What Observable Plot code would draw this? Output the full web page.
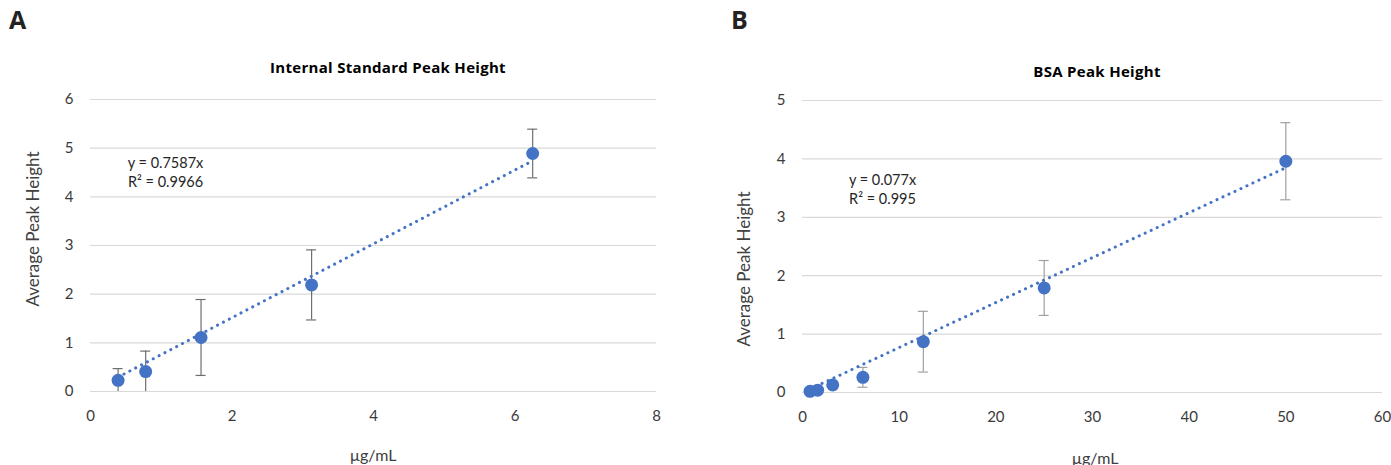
<!DOCTYPE html>
<html>
<head>
<meta charset="utf-8">
<script src="https://cdn.jsdelivr.net/npm/d3@7"></script>
<script src="https://cdn.jsdelivr.net/npm/@observablehq/plot@0.6"></script>
<style>
  body { margin: 0; background: #fff; font-family: Lato, "Open Sans", sans-serif; }
  #wrap { position: relative; width: 1391px; height: 465px; overflow: hidden; background: #fff; }
  .panel { position: absolute; top: 0; }
  .letter { position: absolute; font-size: 25px; font-weight: 700; color: #222; font-family: "Open Sans", sans-serif; }
  .title { position: absolute; font-size: 15px; font-weight: 700; color: #000; transform: translate(-50%, -50%); white-space: nowrap; font-family: "Open Sans", sans-serif; letter-spacing: 0.3px; }
  .ylab { position: absolute; font-size: 17px; color: #404040; white-space: nowrap; transform: translate(-50%, -50%) rotate(-90deg); }
  .xlab { position: absolute; font-size: 16px; color: #404040; white-space: nowrap; transform: translate(-50%, -50%); }
</style>
</head>
<body>
<div id="wrap">
  <div class="panel" id="pa" style="left:0px;"></div>
  <div class="panel" id="pb" style="left:695px;"></div>
  <div class="letter" style="left:9px;top:2px;">A</div>
  <div class="letter" style="left:731px;top:2px;">B</div>
  <div class="title" style="left:388px;top:67px;">Internal Standard Peak Height</div>
  <div class="title" style="left:1097px;top:71px;">BSA Peak Height</div>
  <div class="ylab" style="left:32px;top:229px;">Average Peak Height</div>
  <div class="ylab" style="left:743px;top:269px;">Average Peak Height</div>
  <div class="xlab" style="left:373px;top:454px;">µg/mL</div>
  <div class="xlab" style="left:1095px;top:457px;">µg/mL</div>
</div>
<script>
// Panel A: Internal Standard Peak Height
const concA = [0.39, 0.78, 1.5625, 3.125, 6.25];
const meanA = [0.23, 0.41, 1.11, 2.19, 4.89];
const sdA   = [0.24, 0.42, 0.78, 0.72, 0.50];
const slopeA = 0.7587;
const r2A = 0.9966;
const xTicksA = [0, 2, 4, 6, 8];
const yTicksA = [0, 1, 2, 3, 4, 5, 6];

// Panel B: BSA Peak Height
const concB = [0.78, 1.5625, 3.125, 6.25, 12.5, 25, 50];
const meanB = [0.02, 0.04, 0.13, 0.26, 0.87, 1.79, 3.96];
const sdB   = [0.01, 0.02, 0.03, 0.17, 0.52, 0.47, 0.66];
const slopeB = 0.077;
const r2B = 0.995;
const xTicksB = [0, 10, 20, 30, 40, 50, 60];
const yTicksB = [0, 1, 2, 3, 4, 5];

const blue = "#4472C4";
const font = "Lato, 'Open Sans', sans-serif";

function panel({conc, mean, sd, slope, r2, xTicks, yTicks, width, height, margins, eqDx, eqDy, errColor}) {
  const rows = conc.map((x, i) => ({x, y: mean[i], lo: mean[i] - sd[i], hi: mean[i] + sd[i]}));
  const xmin = d3.min(conc), xmax = d3.max(conc);
  const trend = [{x: xmin, y: slope * xmin}, {x: xmax, y: slope * xmax}];
  return Plot.plot({
    width, height,
    ...margins,
    style: {fontFamily: font, background: "transparent", overflow: "visible"},
    x: {domain: d3.extent(xTicks)},
    y: {domain: d3.extent(yTicks)},
    marks: [
      Plot.gridY(yTicks, {stroke: "#d9d9d9", strokeOpacity: 1, strokeWidth: 1.2}),
      Plot.axisX(xTicks, {tickSize: 0, tickPadding: 19, fontSize: 15, fill: "#3a3a3a", tickFormat: d => String(d), label: null}),
      Plot.axisY(yTicks, {tickSize: 0, tickPadding: 17, fontSize: 15, fill: "#3a3a3a", tickFormat: d => String(d), label: null}),
      Plot.ruleX(rows, {x: "x", y1: d => Math.max(0, d.lo), y2: "hi", stroke: errColor, strokeWidth: 1.2}),
      Plot.ruleY(rows, {x1: "x", x2: "x", y: "hi", stroke: errColor, strokeWidth: 1.2, insetLeft: -5, insetRight: -5}),
      Plot.ruleY(rows.filter(d => d.lo > 0), {x1: "x", x2: "x", y: "lo", stroke: errColor, strokeWidth: 1.2, insetLeft: -5, insetRight: -5}),
      Plot.line(trend, {x: "x", y: "y", stroke: blue, strokeWidth: 3, strokeDasharray: "0.1 6.5", strokeLinecap: "round"}),
      Plot.dot(rows, {x: "x", y: "y", r: 6.5, fill: blue, stroke: "none"}),
      Plot.text([`y = ${slope}x\nR² = ${r2}`], {frameAnchor: "top-left", dx: eqDx, dy: eqDy, textAnchor: "middle", lineAnchor: "middle", lineHeight: 1.3, fontSize: 14.5, fill: "#262626"})
    ]
  });
}

document.getElementById("pa").append(panel({
  conc: concA, mean: meanA, sd: sdA, slope: slopeA, r2: r2A, xTicks: xTicksA, yTicks: yTicksA,
  width: 695, height: 465,
  margins: {marginLeft: 90, marginRight: 39, marginTop: 99, marginBottom: 74},
  eqDx: 75, eqDy: 72, errColor: "#6f6f6f"
}));

document.getElementById("pb").append(panel({
  conc: concB, mean: meanB, sd: sdB, slope: slopeB, r2: r2B, xTicks: xTicksB, yTicks: yTicksB,
  width: 696, height: 465,
  margins: {marginLeft: 107, marginRight: 9, marginTop: 100, marginBottom: 73},
  eqDx: 80, eqDy: 88, errColor: "#a0a0a0"
}));
</script>
</body>
</html>
